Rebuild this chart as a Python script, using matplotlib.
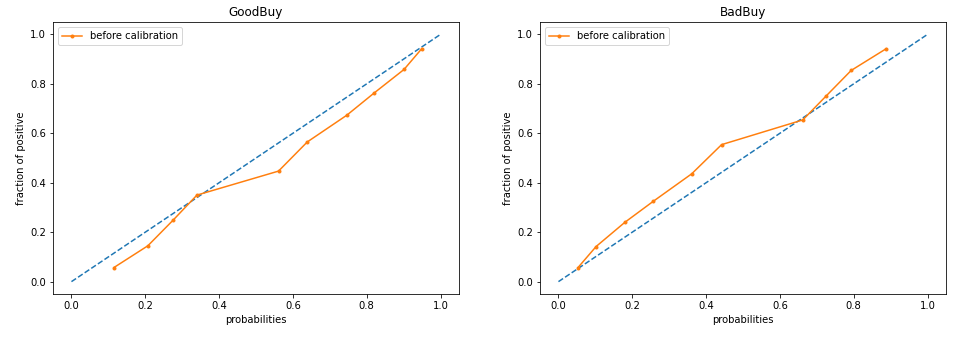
import matplotlib
matplotlib.use("Agg")
import matplotlib.pyplot as plt

# calibration curves
good_prob = [0.115, 0.207, 0.275, 0.340, 0.561, 0.639, 0.746, 0.821, 0.901, 0.949]
good_frac = [0.057, 0.145, 0.248, 0.350, 0.447, 0.565, 0.673, 0.764, 0.858, 0.942]

bad_prob = [0.053, 0.102, 0.180, 0.257, 0.361, 0.442, 0.662, 0.726, 0.793, 0.888]
bad_frac = [0.057, 0.142, 0.240, 0.325, 0.436, 0.554, 0.654, 0.752, 0.854, 0.942]

diag = [0, 1]
titles = ["GoodBuy", "BadBuy"]

# original looks like a 72 dpi notebook render
fig = plt.figure(figsize=(962 / 72, 337 / 72), dpi=72)
ax1 = fig.add_axes([53 / 962, 1 - 294 / 337, 406 / 962, 272 / 337])
ax2 = fig.add_axes([540 / 962, 1 - 294 / 337, 406 / 962, 272 / 337])

for ax, title, px, fy in zip([ax1, ax2], titles, [good_prob, bad_prob], [good_frac, bad_frac]):
    ax.plot(diag, diag, linestyle='--', color='#1f77b4')
    ax.plot(px, fy, marker='.', color='#ff7f0e', label='before calibration')
    ax.set_title(title)
    ax.set_xlabel('probabilities')
    ax.set_ylabel('fraction of positive')
    ax.legend(loc='upper left')

fig.savefig('out.png', dpi=72)
